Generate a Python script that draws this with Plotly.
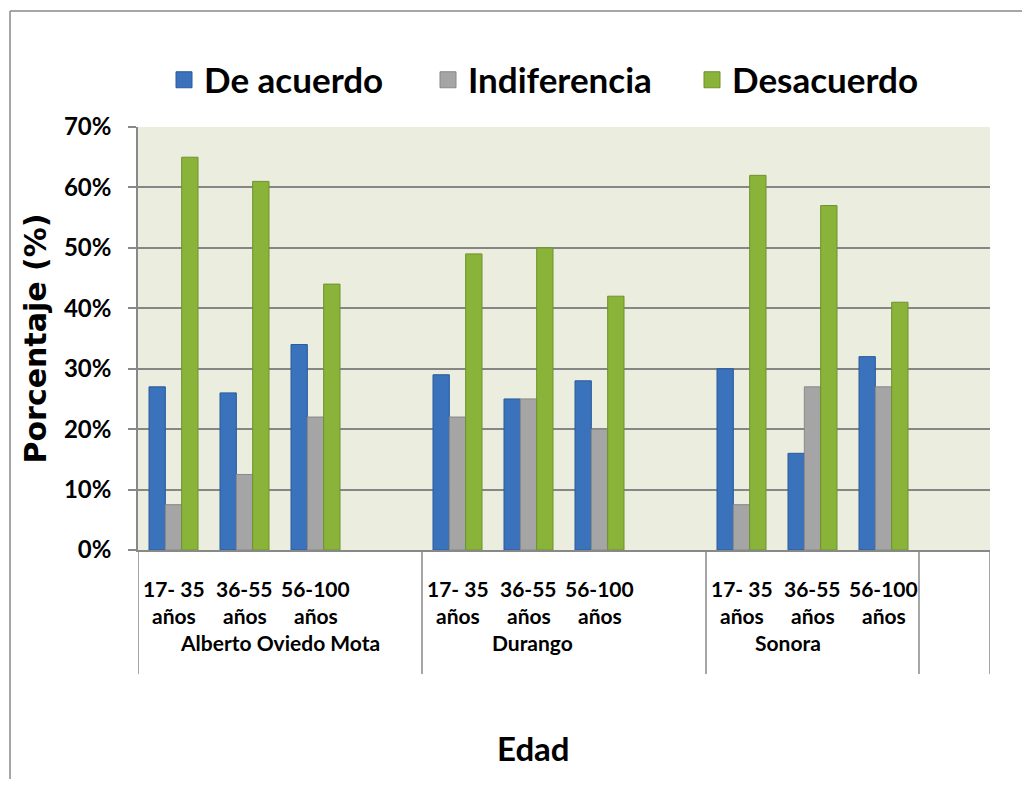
import plotly.graph_objects as go

# ---- data ----
sites = ["Alberto Oviedo Mota", "Durango", "Sonora"]
age_line1 = ["17- 35", "36-55", "56-100"]
age_line2 = ["años", "años", "años"]
series_names = ["De acuerdo", "Indiferencia", "Desacuerdo"]

de_acuerdo = [27, 26, 34, 29, 25, 28, 30, 16, 32]
indiferencia = [7.5, 12.5, 22, 22, 25, 20, 7.5, 27, 27]
desacuerdo = [65, 61, 44, 49, 50, 42, 62, 57, 41]

y_ticks = [0, 10, 20, 30, 40, 50, 60, 70]
y_ticktext = ["0%", "10%", "20%", "30%", "40%", "50%", "60%", "70%"]

colors = ["#3A72BC", "#A5A5A5", "#8AB33A"]
line_colors = ["#2A5A9A", "#888888", "#6E912C"]

# ---- categories: each site has 3 age slots, plus blank slots as in the original ----
cats, cat_site, cat_age = [], [], []
for s in sites:
    for j in range(len(age_line1)):
        cats.append(f"{s} | {age_line1[j]} {age_line2[j]}")
        cat_site.append(s)
        cat_age.append(j)
    if s != "Sonora":
        cats.append(f"{s} | blank")
        cat_site.append(s)
        cat_age.append(None)
cats.append("end | blank")
cat_site.append(None)
cat_age.append(None)


def expand(vals):
    out, i = [], 0
    for a in cat_age:
        if a is None:
            out.append(None)
        else:
            out.append(vals[i])
            i += 1
    return out


FONT = "Lato, Carlito, 'Open Sans', sans-serif"

fig = go.Figure()
for name, vals, c, lc in zip(series_names, [de_acuerdo, indiferencia, desacuerdo], colors, line_colors):
    fig.add_trace(go.Bar(
        name=name, x=cats, y=expand(vals), legendgroup=name, showlegend=False,
        marker=dict(color=c, line=dict(color=lc, width=1)),
    ))
# legend entries with larger square swatches
for name, c, lc in zip(series_names, colors, line_colors):
    fig.add_trace(go.Scatter(
        name=name, x=[None], y=[None], mode="markers", legendgroup=name,
        marker=dict(symbol="square", size=16, color=c, line=dict(color=lc, width=1)),
    ))

W, H = 1014, 771
L, R, T, B = 130, 32, 119, 229
PW, PH = W - L - R, H - T - B


def px_x(x):  # figure pixel -> paper x
    return (x - L) / PW


def px_y(y):  # figure pixel -> paper y
    return (H - B - y) / PH


fig.update_layout(
    width=W, height=H,
    margin=dict(l=L, r=R, t=T, b=B),
    paper_bgcolor="white",
    plot_bgcolor="#EBEEDF",
    barmode="group", bargap=0.31, bargroupgap=0,
    font=dict(family=FONT, color="black"),
    showlegend=True,
    legend=dict(
        orientation="h", x=px_x(156), xanchor="left", y=px_y(72), yanchor="middle",
        font=dict(size=35, family=FONT, color="black", weight="bold"),
        bgcolor="rgba(0,0,0,0)", itemwidth=30,
        entrywidth=219, entrywidthmode="pixels",
    ),
    xaxis=dict(
        type="category", categoryorder="array", categoryarray=cats,
        range=[-0.5, len(cats) - 0.5],
        showticklabels=False, ticks="", showgrid=False,
        showline=True, linecolor="#888888", linewidth=1.5,
    ),
    yaxis=dict(
        range=[0, 70], tickvals=y_ticks, ticktext=y_ticktext,
        tickfont=dict(size=24, family=FONT, color="black", weight="bold"),
        showgrid=True, gridcolor="#868686", gridwidth=1.5,
        showline=True, linecolor="#888888", linewidth=1.5,
        ticks="outside", ticklen=8, tickcolor="#888888", tickwidth=1.5,
        ticklabelstandoff=12,
        zeroline=False,
        title=dict(text="Porcentaje (%)",
                   font=dict(size=30, family="DejaVu Sans", color="black", weight="bold"),
                   standoff=8),
    ),
)

# category tick labels (two lines) and site labels
label_font = dict(size=21, family=FONT, color="black", weight="bold")
for c, a in zip(cats, cat_age):
    if a is None:
        continue
    fig.add_annotation(text=age_line1[a], x=c, xref="x", y=px_y(580), yref="paper",
                       showarrow=False, font=label_font, xanchor="center", yanchor="middle")
    fig.add_annotation(text=age_line2[a], x=c, xref="x", y=px_y(607), yref="paper",
                       showarrow=False, font=label_font, xanchor="center", yanchor="middle")

site_label_pos = {"Alberto Oviedo Mota": 1.5, "Durango": 5.05, "Sonora": 8.65}
for s in sites:
    fig.add_annotation(text=s, x=site_label_pos[s], xref="x", y=px_y(634), yref="paper",
                       showarrow=False, font=label_font, xanchor="center", yanchor="middle")

# group dividers below the axis
boundaries = [-0.5]
for i in range(1, len(cats)):
    if cat_site[i] != cat_site[i - 1]:
        boundaries.append(i - 0.5)
boundaries.append(len(cats) - 0.5)
for b in boundaries:
    fig.add_shape(type="line", xref="x", yref="paper", x0=b, x1=b,
                  y0=0, y1=px_y(666), line=dict(color="#888888", width=1.5))

# X axis title
fig.add_annotation(
    text="Edad", xref="paper", yref="paper",
    x=px_x(525), y=px_y(740),
    showarrow=False, font=dict(size=33, family=FONT, color="black", weight="bold"),
    xanchor="center", yanchor="middle",
)

# outer chart border (left and top visible)
fig.add_shape(type="line", xref="paper", yref="paper",
              x0=px_x(2), x1=px_x(W + 20), y0=px_y(3), y1=px_y(3),
              line=dict(color="#888888", width=1.5))
fig.add_shape(type="line", xref="paper", yref="paper",
              x0=px_x(2), x1=px_x(2), y0=px_y(3), y1=px_y(H + 20),
              line=dict(color="#888888", width=1.5))

fig.write_html("out.html")
